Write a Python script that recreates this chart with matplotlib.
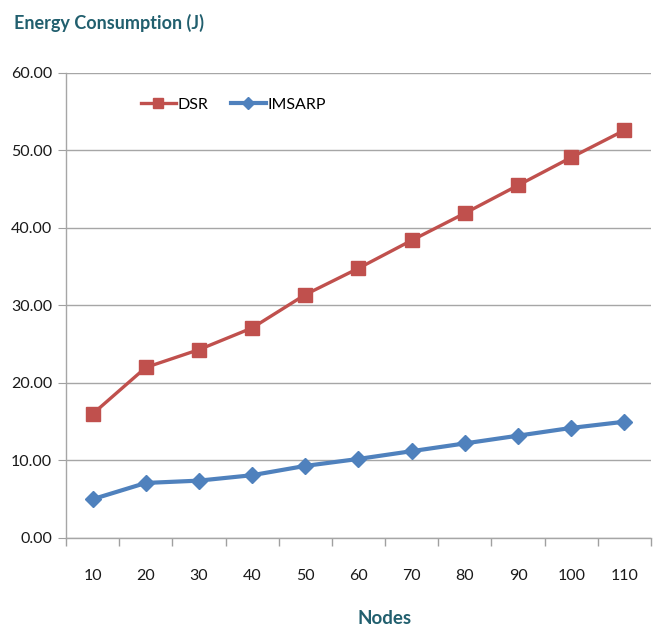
import numpy as np
import matplotlib.pyplot as plt

nodes = ['10', '20', '30', '40', '50', '60', '70', '80', '90', '100', '110']
dsr = [16.0, 22.0, 24.3, 27.1, 31.4, 34.8, 38.4, 41.9, 45.5, 49.1, 52.6]
imsarp = [5.0, 7.1, 7.4, 8.1, 9.3, 10.2, 11.2, 12.2, 13.2, 14.2, 15.0]

plt.rcParams['font.family'] = ['Lato', 'DejaVu Sans']

fig = plt.figure(figsize=(6.58, 6.29), dpi=100)
ax = fig.add_axes([0.1003, 0.1447, 0.889, 0.7393])

x = np.arange(len(nodes))
ax.plot(x, dsr, color='#C0504D', lw=2.4, marker='s', ms=10, label='DSR')
ax.plot(x, imsarp, color='#4F81BD', lw=3, marker='D', ms=8, label='IMSARP')

ax.set_xlim(-0.5, len(nodes) - 0.5)
ax.set_ylim(0, 60)
ax.set_yticks(np.arange(0, 61, 10))
ax.set_yticklabels([f'{v:.2f}' for v in range(0, 61, 10)])
ax.set_xticks(x)
ax.set_xticklabels(nodes)
ax.set_xticks(np.arange(-0.5, len(nodes), 1), minor=True)
ax.tick_params(axis='x', which='major', length=0, pad=22, labelsize=11.5)
ax.tick_params(axis='x', which='minor', length=6, color='#a0a0a0', width=1)
ax.tick_params(axis='y', length=6, color='#a0a0a0', labelsize=11.5, pad=4)
for t in ax.get_yticklabels() + ax.get_xticklabels():
    t.set_color('#1a1a1a')

ax.grid(axis='y', color='#a6a6a6', lw=1)
ax.set_axisbelow(True)
for s in ['top', 'right']:
    ax.spines[s].set_visible(False)
for s in ['left', 'bottom']:
    ax.spines[s].set_color('#a6a6a6')
    ax.spines[s].set_linewidth(1)

ax.legend(loc='upper left', bbox_to_anchor=(0.103, 0.978), ncol=2, frameon=False,
          fontsize=11.5, handlelength=2.2, handletextpad=0.1, columnspacing=1.4,
          markerscale=0.75)

fig.text(14 / 658, 1 - 23 / 629, 'Energy Consumption (J)', color='#215F6E',
         fontsize=13, fontweight='bold', va='center', ha='left')
fig.text(385 / 658, 1 - 619 / 629, 'Nodes', color='#215F6E',
         fontsize=13.5, fontweight='bold', va='center', ha='center')

fig.savefig('out.png', dpi=100)
